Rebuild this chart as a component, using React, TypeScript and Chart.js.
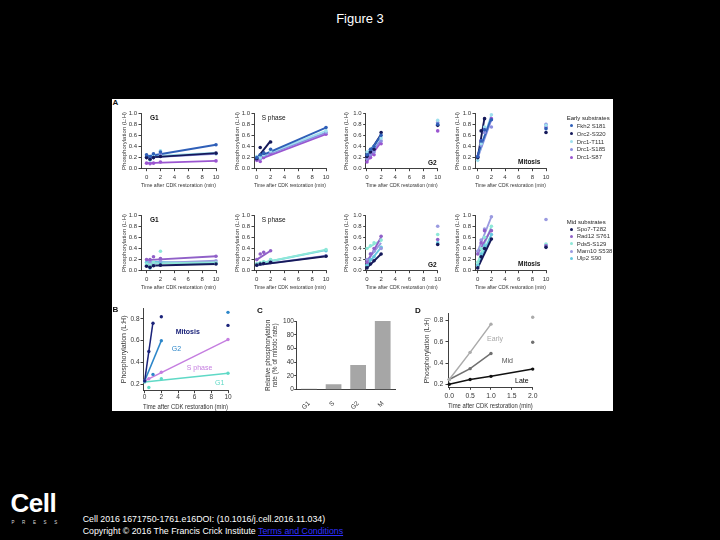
import { useEffect, useRef } from "react";
import { Chart, registerables } from "chart.js";

Chart.register(...registerables);

const FONT = "'Liberation Sans', Arial, Helvetica, sans-serif";
const AXIS = "#2a2a2a";
const TEXT = "#333333";

// ---------- shared axis values ----------
const timePoints = [0, 0.5, 1, 2, 10];
const timeTicks = [0, 2, 4, 6, 8, 10];
const phosTicks = [0, 0.2, 0.4, 0.6, 0.8, 1.0];

// ---------- panel A: early substrates ----------
const earlyNames = ["Fkh2 S181", "Orc2-S320", "Drc1-T111", "Drc1-S185", "Drc1-S87"];
const earlyColors = ["#2f5fb8", "#15195a", "#9fe0ee", "#8b8ee0", "#9a55d0"];

const earlyG1Pts = [
  [0.25, 0.22, 0.27, 0.3, 0.43],
  [0.2, 0.17, 0.2, 0.22, 0.28],
  [0.22, 0.15, 0.25, 0.32, 0.27],
  [0.2, 0.18, 0.2, 0.25, 0.27],
  [0.1, 0.09, 0.1, 0.12, 0.14],
];
const earlyG1Fit = [[0.22, 0.43], [0.2, 0.28], [0.22, 0.29], [0.2, 0.27], [0.1, 0.14]];
const earlyG1FitT = [10, 10, 10, 10, 10];

const earlySPts = [
  [0.2, 0.25, 0.28, 0.35, 0.74],
  [0.18, 0.38, 0.28, 0.48, null],
  [0.22, 0.2, 0.25, 0.32, 0.68],
  [0.18, 0.18, 0.24, 0.3, 0.65],
  [0.15, 0.13, 0.2, 0.28, 0.62],
];
const earlySFit = [[0.2, 0.74], [0.18, 0.5], [0.2, 0.68], [0.18, 0.65], [0.15, 0.62]];
const earlySFitT = [10, 2, 10, 10, 10];

const earlyG2Pts = [
  [0.25, 0.35, 0.4, 0.6, 0.8],
  [0.22, 0.3, 0.35, 0.65, 0.78],
  [0.3, 0.35, 0.4, 0.55, 0.87],
  [0.18, 0.25, 0.3, 0.5, 0.83],
  [0.12, 0.2, 0.25, 0.45, 0.68],
];
const earlyG2Fit = [[0.24, 0.6], [0.22, 0.62], [0.28, 0.56], [0.2, 0.52], [0.13, 0.48]];
const earlyG2FitT = [2, 2, 2, 2, 2];

const earlyMPts = [
  [0.22, 0.5, 0.7, 0.88, 0.72],
  [0.2, 0.68, 0.9, null, 0.65],
  [0.15, 0.45, 0.75, 0.97, 0.78],
  [0.2, 0.42, 0.65, 0.75, 0.8],
  [0.22, 0.5, 0.7, 0.9, 0.75],
];
const earlyMFit = [[0.25, 0.92], [0.2, 0.92], [0.22, 0.97], [0.2, 0.88], [0.25, 0.9]];
const earlyMFitT = [2, 1, 2, 2, 2];

// ---------- panel A: mid substrates ----------
const midNames = ["Spo7-T282", "Rad12 S761", "Pds5-S129", "Mam10 S538", "Ulp2 S90"];
const midColors = ["#15195a", "#9060c8", "#8ee8d8", "#9a9ae0", "#66c8e0"];

const midG1Pts = [
  [0.08, 0.06, 0.09, 0.1, 0.12],
  [0.2, 0.2, 0.25, 0.22, 0.26],
  [0.12, 0.1, 0.15, 0.35, 0.14],
  [0.1, 0.15, 0.12, 0.18, 0.18],
  [0.15, 0.05, 0.1, 0.15, 0.13],
];
const midG1Fit = [[0.09, 0.12], [0.19, 0.26], [0.13, 0.15], [0.13, 0.18], [0.16, 0.13]];
const midG1FitT = [10, 10, 10, 10, 10];

const midSPts = [
  [0.1, 0.12, 0.13, 0.15, 0.26],
  [0.2, 0.3, 0.33, 0.36, null],
  [0.12, 0.14, 0.16, 0.2, 0.38],
  [0.1, 0.12, 0.14, 0.17, 0.27],
  [0.12, 0.13, 0.15, 0.19, 0.36],
];
const midSFit = [[0.1, 0.26], [0.2, 0.36], [0.12, 0.38], [0.1, 0.27], [0.12, 0.37]];
const midSFitT = [10, 2, 10, 10, 10];

const midG2Pts = [
  [0.05, 0.12, 0.18, 0.3, 0.47],
  [0.15, 0.3, 0.4, 0.62, 0.56],
  [0.4, 0.45, 0.5, 0.55, 0.65],
  [0.2, 0.3, 0.35, 0.4, 0.8],
  [0.1, 0.2, 0.25, 0.42, 0.5],
];
const midG2Fit = [[0.05, 0.3], [0.15, 0.6], [0.4, 0.55], [0.18, 0.5], [0.1, 0.42]];
const midG2FitT = [2, 2, 2, 2, 2];

const midMPts = [
  [0.05, 0.25, 0.4, 0.57, 0.42],
  [0.3, 0.5, 0.72, 0.72, 0.45],
  [0.15, 0.4, 0.6, 0.8, 0.48],
  [0.35, 0.55, 0.75, 0.97, 0.92],
  [0.1, 0.3, 0.45, 0.65, 0.46],
];
const midMFit = [[0.05, 0.57], [0.3, 0.75], [0.15, 0.8], [0.35, 0.97], [0.1, 0.65]];
const midMFitT = [2, 2, 2, 2, 2];

// ---------- panel B ----------
const bPhases = ["Mitosis", "G2", "S phase", "G1"];
const bColors = ["#1b237a", "#2c86c9", "#c57ee0", "#5fd9c6"];
const bPts = [
  [0.23, 0.5, 0.76, 0.82, 0.74],
  [0.23, null, 0.29, 0.6, 0.86],
  [0.23, 0.25, null, 0.31, 0.61],
  [0.22, 0.17, null, 0.25, 0.3],
];
const bFit = [[0.23, 0.77], [0.23, 0.6], [0.23, 0.61], [0.22, 0.3]];
const bFitT = [1, 2, 10, 10];
const bYTicks = [0.2, 0.4, 0.6, 0.8];

// ---------- panel C ----------
const cPhases = ["G1", "S", "G2", "M"];
const cRates = [1.5, 8, 36, 100];
const cYTicks = [0, 20, 40, 60, 80, 100];

// ---------- panel D ----------
const dClasses = ["Early", "Mid", "Late"];
const dColors = ["#ababab", "#707070", "#111111"];
const dTimes = [0, 0.5, 1, 2];
const dPts = [
  [0.245, 0.5, 0.765, 0.83],
  [0.245, 0.347, 0.49, 0.595],
  [0.2, 0.245, 0.275, 0.343],
];
const dLineEnd = [1, 1, 2];
const dXTicks = [0, 0.5, 1, 1.5, 2];
const dYTicks = [0.2, 0.4, 0.6, 0.8];

// ---------- helpers ----------
type Area = { L: number; R: number; T: number; B: number };
type Place = { left: number; top: number; w: number; h: number; wy: number; padT: number; padR: number; hx: number };

function place(a: Area, wy: number, hx: number, padT = 5, padR = 7): Place {
  const left = Math.round(a.L - wy);
  const top = Math.round(a.T - padT);
  const w = Math.ceil(a.R + padR - left);
  const h = Math.ceil(a.B + hx - top);
  return { left, top, w, h, wy: a.L - left, padT: a.T - top, padR: left + w - a.R, hx: top + h - a.B };
}

function linAxis(o: {
  min: number; max: number; ticks: number[]; fmt: (v: number) => string; title?: string | string[];
  size: number; tsize?: number; fixed: number; horizontal: boolean; pad: number;
}): any {
  return {
    type: "linear",
    min: o.min,
    max: o.max,
    afterBuildTicks: (s: any) => { s.ticks = o.ticks.map((v) => ({ value: v })); },
    afterFit: (s: any) => { if (o.horizontal) s.height = o.fixed; else s.width = o.fixed; },
    grid: { display: true, drawOnChartArea: false, drawTicks: true, tickLength: 2.5, color: AXIS, lineWidth: 0.9 },
    border: { display: true, color: AXIS, width: 0.9 },
    ticks: {
      autoSkip: false, maxRotation: 0, minRotation: 0, padding: o.pad, color: TEXT,
      font: { family: FONT, size: o.size }, callback: (v: any) => o.fmt(Number(v)),
    },
    title: { display: !!o.title, text: o.title, color: TEXT, padding: 0, font: { family: FONT, size: o.tsize || o.size } },
  };
}

function baseOptions(p: Place, x: any, y: any): any {
  return {
    responsive: false,
    animation: false,
    events: [],
    layout: { padding: { top: p.padT, right: p.padR, left: 0, bottom: 0 } },
    plugins: { legend: { display: false }, tooltip: { enabled: false } },
    scales: { x, y },
  };
}

const f1 = (v: number) => v.toFixed(1);
const f0 = (v: number) => String(Math.round(v));

function substrateSpec(
  pts: (number | null)[][], fits: number[][], fitT: number[], colors: string[], area: Area, xMin: number, wy: number
) {
  const p = place(area, wy, 20.2);
  const datasets: any[] = [];
  pts.forEach((row, i) => {
    datasets.push({
      data: timePoints.map((t, j) => ({ x: t, y: row[j] })).filter((d) => d.y !== null),
      showLine: false, backgroundColor: colors[i], pointRadius: 1.8, pointBorderWidth: 0, clip: false,
    });
  });
  fits.forEach((f, i) => {
    datasets.push({
      data: [{ x: 0, y: f[0] }, { x: fitT[i], y: f[1] }],
      showLine: true, borderColor: colors[i], borderWidth: 1.9, pointRadius: 0, clip: false,
    });
  });
  const x = linAxis({ min: xMin, max: 10, ticks: timeTicks, fmt: f0, title: "Time after CDK restoration (min)", size: 6, fixed: p.hx, horizontal: true, pad: 2.2 });
  const y = linAxis({ min: 0, max: 1, ticks: phosTicks, fmt: f1, title: "Phosphorylation (L:H)", size: 6, fixed: p.wy, horizontal: false, pad: 1.5 });
  return { p, config: { type: "scatter", data: { datasets }, options: baseOptions(p, x, y) } };
}

const cols = [
  { L: 141, R: 216, xMin: -0.8, wy: 20 },
  { L: 254, R: 326, xMin: -0.4, wy: 20 },
  { L: 365.7, R: 437.7, xMin: -0.18, wy: 23 },
  { L: 475, R: 546, xMin: -0.4, wy: 21 },
];
const rowT = [112.7, 214.7];
const rowB = [168.7, 270.7];

function area(c: number, r: number): Area {
  return { L: cols[c].L, R: cols[c].R, T: rowT[r], B: rowB[r] };
}

function bSpec() {
  const a: Area = { L: 143, R: 228, T: 308, B: 390.7 };
  const p = place(a, 23, 19.5);
  const datasets: any[] = [];
  bPts.forEach((row, i) => {
    datasets.push({
      data: timePoints.map((t, j) => ({ x: t, y: row[j] })).filter((d) => d.y !== null),
      showLine: false, backgroundColor: bColors[i], pointRadius: 1.7, pointBorderWidth: 0, clip: false,
    });
  });
  bFit.forEach((f, i) => {
    datasets.push({
      data: [{ x: 0, y: f[0] }, { x: bFitT[i], y: f[1] }],
      showLine: true, borderColor: bColors[i], borderWidth: 1.5, pointRadius: 0, clip: false,
    });
  });
  const x = linAxis({ min: -0.2, max: 10, ticks: timeTicks, fmt: f0, title: "Time after CDK restoration (min)", size: 6.5, tsize: 7, fixed: p.hx, horizontal: true, pad: 0.3 });
  const y = linAxis({ min: 0.14, max: 0.9, ticks: bYTicks, fmt: f1, title: "Phosphorylation (L:H)", size: 6.5, tsize: 7, fixed: p.wy, horizontal: false, pad: 1 });
  return { p, config: { type: "scatter", data: { datasets }, options: baseOptions(p, x, y) } };
}

function cSpec() {
  const a: Area = { L: 296.7, R: 395, T: 321, B: 389.7 };
  const p = place(a, 32.6, 21);
  const x: any = {
    type: "category",
    afterFit: (s: any) => { s.height = p.hx; },
    grid: { display: false },
    border: { display: true, color: AXIS, width: 0.9 },
    ticks: { autoSkip: false, minRotation: 45, maxRotation: 45, padding: 2, color: TEXT, font: { family: FONT, size: 6.5 } },
  };
  const y = linAxis({ min: 0, max: 100, ticks: cYTicks, fmt: f0, title: ["Relative phosphorylation", "rate (% of mitotic rate)"], size: 6.5, fixed: p.wy, horizontal: false, pad: 0.3 });
  return {
    p,
    config: {
      type: "bar",
      data: { labels: cPhases, datasets: [{ data: cRates, backgroundColor: "#a6a6a6", categoryPercentage: 1, barPercentage: 0.64 }] },
      options: baseOptions(p, x, y),
    },
  };
}

function dSpec() {
  const a: Area = { L: 448, R: 532.7, T: 311.7, B: 387.3 };
  const p = place(a, 25.4, 22.3);
  const datasets: any[] = [];
  dPts.forEach((row, i) => {
    datasets.push({
      data: dTimes.map((t, j) => ({ x: t, y: row[j] })),
      showLine: false, backgroundColor: dColors[i], pointRadius: 1.7, pointBorderWidth: 0, clip: false,
    });
    datasets.push({
      data: dTimes.map((t, j) => ({ x: t, y: row[j] })).filter((d) => d.x <= dLineEnd[i]),
      showLine: true, borderColor: dColors[i], borderWidth: 1.5, pointRadius: 0, clip: false,
    });
  });
  const x = linAxis({ min: -0.03, max: 2, ticks: dXTicks, fmt: f1, title: "Time after CDK restoration (min)", size: 6.8, fixed: p.hx, horizontal: true, pad: 2 });
  const y = linAxis({ min: 0.172, max: 0.866, ticks: dYTicks, fmt: f1, title: "Phosphorylation (L:H)", size: 6.8, fixed: p.wy, horizontal: false, pad: 2.3 });
  return { p, config: { type: "scatter", data: { datasets }, options: baseOptions(p, x, y) } };
}

const specs = [
  substrateSpec(earlyG1Pts, earlyG1Fit, earlyG1FitT, earlyColors, area(0, 0), cols[0].xMin, cols[0].wy),
  substrateSpec(earlySPts, earlySFit, earlySFitT, earlyColors, area(1, 0), cols[1].xMin, cols[1].wy),
  substrateSpec(earlyG2Pts, earlyG2Fit, earlyG2FitT, earlyColors, area(2, 0), cols[2].xMin, cols[2].wy),
  substrateSpec(earlyMPts, earlyMFit, earlyMFitT, earlyColors, area(3, 0), cols[3].xMin, cols[3].wy),
  substrateSpec(midG1Pts, midG1Fit, midG1FitT, midColors, area(0, 1), cols[0].xMin, cols[0].wy),
  substrateSpec(midSPts, midSFit, midSFitT, midColors, area(1, 1), cols[1].xMin, cols[1].wy),
  substrateSpec(midG2Pts, midG2Fit, midG2FitT, midColors, area(2, 1), cols[2].xMin, cols[2].wy),
  substrateSpec(midMPts, midMFit, midMFitT, midColors, area(3, 1), cols[3].xMin, cols[3].wy),
  bSpec(),
  cSpec(),
  dSpec(),
];

function ChartBox({ spec }: { spec: { p: Place; config: any } }) {
  const ref = useRef<HTMLCanvasElement>(null);
  useEffect(() => {
    const chart = new Chart(ref.current as HTMLCanvasElement, spec.config);
    return () => chart.destroy();
  }, [spec]);
  const { left, top, w, h } = spec.p;
  return (
    <canvas ref={ref} width={w} height={h} style={{ position: "absolute", left, top, width: w, height: h }} />
  );
}

function Txt(props: { x: number; y: number; size: number; color?: string; bold?: boolean; children: any; style?: any }) {
  return (
    <div
      style={{
        position: "absolute", left: props.x, top: props.y - props.size / 2, fontSize: props.size, lineHeight: 1,
        color: props.color || TEXT, fontWeight: props.bold ? 700 : 400, whiteSpace: "nowrap", ...(props.style || {}),
      }}
    >
      {props.children}
    </div>
  );
}

function Legend({ title, names, colors, titleY, itemY }: { title: string; names: string[]; colors: string[]; titleY: number; itemY: number[] }) {
  return (
    <>
      <Txt x={566.7} y={titleY} size={6} color="#222">{title}</Txt>
      {names.map((n, i) => (
        <div key={n}>
          <div style={{ position: "absolute", left: 570.2, top: itemY[i] - 1.5, width: 3, height: 3, borderRadius: 2, background: colors[i] }} />
          <Txt x={576.7} y={itemY[i]} size={6} color="#333">{n}</Txt>
        </div>
      ))}
    </>
  );
}

export default function App() {
  return (
    <div style={{ position: "fixed", left: 0, top: 0, width: 720, height: 540, background: "#000", overflow: "hidden", fontFamily: FONT }}>
      <Txt x={0} y={18} size={13} color="#ffffff" style={{ width: 720, textAlign: "center" }}>Figure 3</Txt>
      <div style={{ position: "absolute", left: 112, top: 99, width: 501, height: 312, background: "#fff" }} />

      {specs.map((s, i) => <ChartBox key={i} spec={s} />)}

      {/* panel letters */}
      <Txt x={112.5} y={103} size={8} color="#111" bold>A</Txt>
      <Txt x={112.5} y={310} size={8} color="#111" bold>B</Txt>
      <Txt x={257} y={311} size={8} color="#111" bold>C</Txt>
      <Txt x={415} y={310.7} size={8} color="#111" bold>D</Txt>

      {/* in-plot phase labels, panel A */}
      {[0, 102].map((dy) => (
        <div key={dy}>
          <Txt x={150} y={118.7 + dy} size={6.5} color="#111" bold>G1</Txt>
          <Txt x={261.7} y={118.7 + dy} size={6.5} color="#111">S phase</Txt>
          <Txt x={428} y={163.5 + dy} size={6.5} color="#111" bold>G2</Txt>
          <Txt x={518} y={162.5 + dy} size={6.5} color="#111" bold>Mitosis</Txt>
        </div>
      ))}

      <Legend title="Early substrates" names={earlyNames} colors={earlyColors} titleY={118.3} itemY={[125.7, 133.7, 141.7, 149.3, 157.3]} />
      <Legend title="Mid substrates" names={midNames} colors={midColors} titleY={222} itemY={[229, 236.3, 243.7, 251, 258]} />

      {/* panel B labels */}
      <Txt x={175.7} y={331} size={7} color={bColors[0]} bold>{bPhases[0]}</Txt>
      <Txt x={171.7} y={348.3} size={7} color={bColors[1]}>{bPhases[1]}</Txt>
      <Txt x={186.7} y={367.3} size={7} color={bColors[2]}>{bPhases[2]}</Txt>
      <Txt x={215} y={382.7} size={7} color={bColors[3]}>{bPhases[3]}</Txt>

      {/* panel D labels */}
      <Txt x={487} y={338} size={7} color="#a8a8a8">{dClasses[0]}</Txt>
      <Txt x={501.7} y={360} size={7} color="#555">{dClasses[1]}</Txt>
      <Txt x={515} y={380} size={7} color="#000">{dClasses[2]}</Txt>

      {/* Cell Press logo */}
      <Txt x={10.5} y={502.5} size={26} color="#fff" bold style={{ letterSpacing: -0.5 }}>Cell</Txt>
      <Txt x={11.5} y={523.3} size={4.5} color="#ddd" style={{ letterSpacing: 7.6 }}>PRESS</Txt>

      {/* citation */}
      <Txt x={82.7} y={519.3} size={8.8} color="#fff">Cell 2016 1671750-1761.e16DOI: (10.1016/j.cell.2016.11.034)</Txt>
      <Txt x={82.7} y={531.7} size={8.8} color="#fff">
        Copyright © 2016 The Francis Crick Institute{" "}
        <span style={{ color: "#3030ff", textDecoration: "underline" }}>Terms and Conditions</span>
      </Txt>
    </div>
  );
}
